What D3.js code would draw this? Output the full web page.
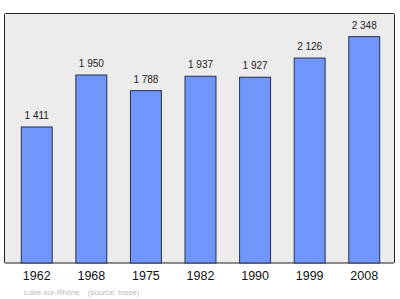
<!DOCTYPE html>
<html>
<head>
<meta charset="utf-8">
<script src="https://cdn.jsdelivr.net/npm/d3@7"></script>
<style>
  body { margin: 0; background: #fff; }
  svg { display: block; font-family: "Liberation Sans", Arial, sans-serif; }
</style>
</head>
<body>
<svg id="chart" width="400" height="299"></svg>
<script>
const years = ["1962", "1968", "1975", "1982", "1990", "1999", "2008"];
const population = [1411, 1950, 1788, 1937, 1927, 2126, 2348];
const note = ["Loire-sur-Rhône", "(source: Insee)"];

const frame = { left: 4.5, top: 13.5, right: 394.5, bottom: 263 };

const svg = d3.select("#chart");

// plot background with the dark border
svg.append("rect")
  .attr("x", frame.left)
  .attr("y", frame.top)
  .attr("width", frame.right - frame.left)
  .attr("height", frame.bottom - frame.top)
  .attr("fill", "#ececec")
  .attr("stroke", "#222")
  .attr("stroke-width", 1)
  .attr("rx", 1);

const x = d3.scaleBand()
  .domain(years)
  .range([6, 395])
  .paddingInner(0.433)
  .paddingOuter(0.28);

const y = d3.scaleLinear()
  .domain([0, 2588])
  .range([frame.bottom, frame.top]);

const data = years.map((yr, i) => ({ year: yr, value: population[i] }));
const fmt = v => d3.format(",")(v).replace(",", " ");

svg.selectAll(".bar")
  .data(data)
  .join("rect")
  .attr("class", "bar")
  .attr("x", d => x(d.year))
  .attr("y", d => y(d.value))
  .attr("width", x.bandwidth())
  .attr("height", d => frame.bottom - y(d.value))
  .attr("fill", "#7096fb")
  .attr("stroke", "#26304a")
  .attr("stroke-width", 1);

svg.selectAll(".val")
  .data(data)
  .join("text")
  .attr("class", "val")
  .attr("x", d => x(d.year) + x.bandwidth() / 2)
  .attr("y", d => y(d.value) - 8)
  .attr("text-anchor", "middle")
  .attr("font-size", 10)
  .attr("fill", "#222")
  .text(d => fmt(d.value));

// category axis, no tick lines
const ax = svg.append("g")
  .attr("transform", `translate(0,${frame.bottom})`)
  .call(d3.axisBottom(x).tickSize(0).tickPadding(8));
ax.select(".domain").remove();
ax.selectAll("text")
  .attr("font-size", 12.5)
  .attr("font-family", "\"Liberation Sans\", Arial, sans-serif")
  .attr("fill", "#111");

svg.append("text")
  .attr("x", 24)
  .attr("y", 295)
  .attr("font-size", 7.7)
  .attr("fill", "#b8b8b8")
  .attr("xml:space", "preserve")
  .text(note[0] + "    " + note[1]);
</script>
</body>
</html>
